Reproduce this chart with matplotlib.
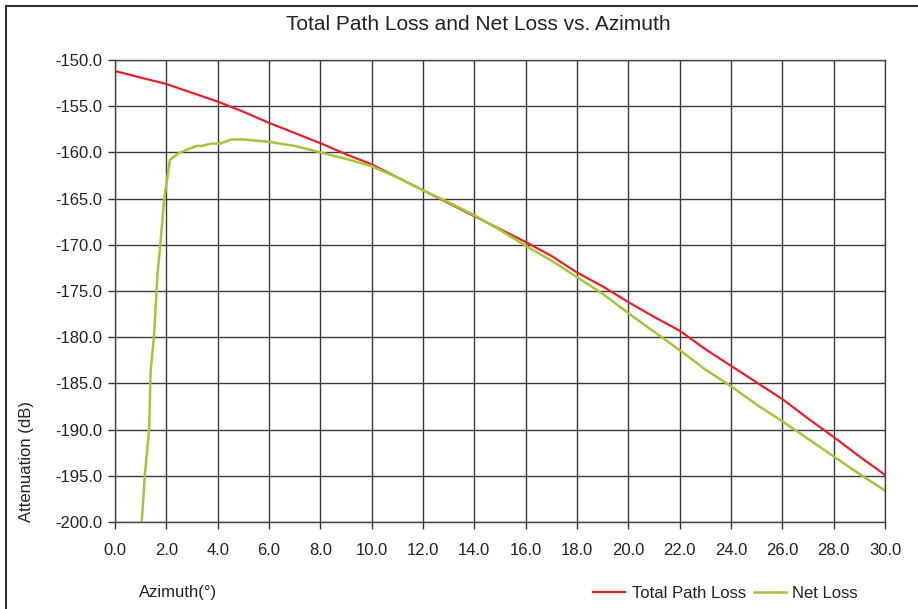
import matplotlib
matplotlib.use("Agg")
import matplotlib.pyplot as plt
from matplotlib.patches import Rectangle

plt.rcParams['font.family'] = ['Liberation Sans', 'DejaVu Sans']

# Total path loss vs. azimuth
total_az = [0, 2, 4, 5, 6, 7, 8, 9, 10, 11, 12, 13, 14, 15, 16, 17, 18, 19,
            20, 21, 22, 23, 24, 25, 26, 27, 28, 29, 30]
total_loss = [-151.2, -152.6, -154.5, -155.6, -156.8, -157.9, -159.0, -160.2,
              -161.3, -162.7, -164.1, -165.5, -166.9, -168.3, -169.7, -171.2,
              -173.0, -174.5, -176.2, -177.8, -179.3, -181.3, -183.1, -184.9,
              -186.7, -188.8, -190.8, -192.9, -194.9]

# Net loss vs. azimuth
net_az = [1.04, 1.17, 1.33, 1.39, 1.52, 1.65, 1.78, 1.91, 2.14, 2.47, 2.8, 3.18,
          3.37, 3.76, 4.09, 4.54, 5.0, 6.0, 7.0, 8.0, 9.0, 10.0, 11.0, 12.0,
          13.0, 14.0, 15.0, 16.0, 17.0, 18.0, 19.0, 20.0, 21.0, 22.0, 23.0,
          24.0, 25.0, 26.0, 27.0, 28.0, 29.0, 30.0]
net_loss = [-200.0, -194.7, -189.9, -183.6, -179.9, -173.4, -169.5, -165.2,
            -160.8, -160.1, -159.7, -159.3, -159.3, -159.05, -159.05, -158.6,
            -158.6, -158.85, -159.3, -160.0, -160.7, -161.5, -162.7, -164.1,
            -165.4, -166.8, -168.4, -170.1, -171.7, -173.5, -175.3, -177.4,
            -179.4, -181.4, -183.5, -185.3, -187.3, -189.1, -191.0, -192.9,
            -194.8, -196.6]

x_ticks = [0, 2, 4, 6, 8, 10, 12, 14, 16, 18, 20, 22, 24, 26, 28, 30]
y_ticks = [-150, -155, -160, -165, -170, -175, -180, -185, -190, -195, -200]

W, H = 918, 609
fig = plt.figure(figsize=(W / 100, H / 100), dpi=100)
ax = fig.add_axes([115 / W, 1 - 522 / H, (885 - 115) / W, (522 - 60) / H])

ax.plot(total_az, total_loss, color='#e8202a', lw=1.6, label='Total Path Loss')
ax.plot(net_az, net_loss, color='#a4c639', lw=1.8, label='Net Loss')

ax.set_xlim(0, 30)
ax.set_ylim(-200, -150)
ax.set_xticks(x_ticks)
ax.set_yticks(y_ticks)
ax.set_xticklabels([f"{v:.1f}" for v in x_ticks])
ax.set_yticklabels([f"{v:.1f}" for v in y_ticks])
ax.tick_params(axis='both', direction='out', length=5, width=1, color='#333333',
               labelsize=12, labelcolor='#222222')
ax.tick_params(axis='x', pad=10)
ax.tick_params(axis='y', pad=4)
ax.grid(True, color='#3a3a3a', lw=1)
ax.set_axisbelow(True)
for s in ax.spines.values():
    s.set_color('#444444')
    s.set_linewidth(1)

fig.text(478 / W, 1 - 25 / H, 'Total Path Loss and Net Loss vs. Azimuth',
         ha='center', va='center', fontsize=15, color='#222222')
fig.text(27 / W, 1 - 462 / H, 'Attenuation (dB)', rotation=90,
         ha='center', va='center', fontsize=12, color='#222222')
fig.text(139 / W, 1 - 593 / H, 'Azimuth(°)', ha='left', va='center',
         fontsize=12, color='#222222')

handles, labels = ax.get_legend_handles_labels()
fig.legend(handles, labels, loc='center right', bbox_to_anchor=(873 / W, 1 - 593 / H),
           ncol=2, frameon=False, fontsize=12, handlelength=1.9,
           handletextpad=0.4, columnspacing=0.5, labelcolor='#222222')

fig.add_artist(Rectangle((6 / W, -0.05), 1.1, 1.05 - 6 / H,
                         transform=fig.transFigure, fill=False,
                         edgecolor='#333333', lw=1.5, clip_on=False))

fig.savefig('out.png', dpi=100)
